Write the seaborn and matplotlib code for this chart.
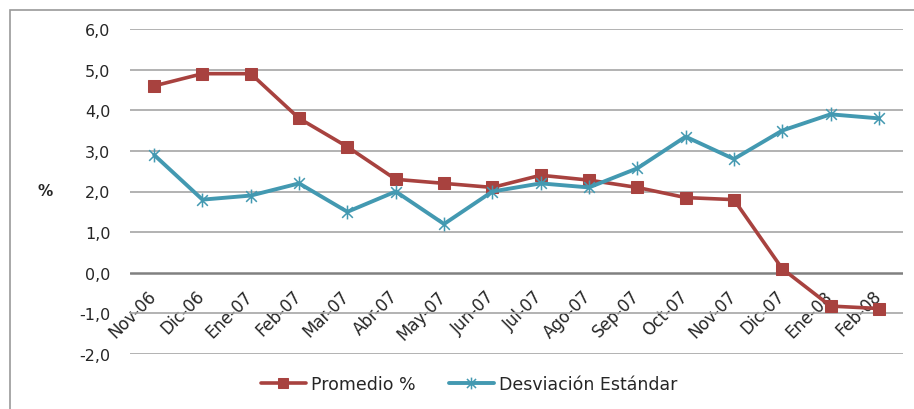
import matplotlib
matplotlib.use("Agg")
import matplotlib.pyplot as plt
import matplotlib.transforms as mtransforms
from matplotlib.path import Path
from matplotlib.patches import Rectangle
import seaborn as sns
import pandas as pd

meses = ["Nov-06", "Dic-06", "Ene-07", "Feb-07", "Mar-07", "Abr-07", "May-07", "Jun-07",
         "Jul-07", "Ago-07", "Sep-07", "Oct-07", "Nov-07", "Dic-07", "Ene-08", "Feb-08"]
promedio = [4.6, 4.9, 4.9, 3.8, 3.1, 2.3, 2.2, 2.1, 2.4, 2.28, 2.1, 1.85, 1.8, 0.1, -0.82, -0.88]
desviacion = [2.9, 1.8, 1.9, 2.2, 1.5, 2.0, 1.2, 2.0, 2.2, 2.1, 2.57, 3.35, 2.8, 3.5, 3.9, 3.8]
y_ticks = [-2, -1, 0, 1, 2, 3, 4, 5, 6]
y_labels = ["-2,0", "-1,0", "0,0", "1,0", "2,0", "3,0", "4,0", "5,0", "6,0"]

red = "#A8423F"
blue = "#4399B1"

# Excel style asterisk: an X plus a vertical stroke
star = Path(
    [(-1, -1), (1, 1), (-1, 1), (1, -1), (0, -1.3), (0, 1.3)],
    [Path.MOVETO, Path.LINETO, Path.MOVETO, Path.LINETO, Path.MOVETO, Path.LINETO],
)

sns.set_style("white")
plt.rcParams["font.family"] = ["DejaVu Sans"]

df = pd.DataFrame({"mes": meses, "Promedio %": promedio, "Desviación Estándar": desviacion})
df["pos"] = range(len(meses))

fig = plt.figure(figsize=(9.14, 4.10), dpi=100)
ax = fig.add_axes([130 / 914, 1 - 355 / 410, 773 / 914, 325 / 410])

# outer chart frame
fig.patches.append(Rectangle((10 / 914, -0.1), 1.2, 1.1 - 11 / 410,
                             transform=fig.transFigure, fill=False,
                             edgecolor="#9a9a9a", linewidth=1.2))

for t in y_ticks:
    ax.axhline(t, color="#808080" if t == 0 else "#a6a6a6",
               linewidth=1.8 if t == 0 else 1.2, zorder=1)

sns.lineplot(data=df, x="pos", y="Promedio %", ax=ax, color=red, linewidth=2.6,
             marker="s", markersize=9, markeredgecolor=red, label="Promedio %", zorder=3)
sns.lineplot(data=df, x="pos", y="Desviación Estándar", ax=ax, color=blue, linewidth=2.8,
             marker=star, markersize=10, markeredgewidth=1.1, markeredgecolor=blue,
             markerfacecolor="none", label="Desviación Estándar", zorder=4)

# category labels sit on the zero line, like Excel
ax.spines["bottom"].set_position(("data", 0))
for s in ax.spines.values():
    s.set_visible(False)

ax.set_xlim(-0.5, len(meses) - 0.5)
ax.set_ylim(-2, 6)
ax.set_yticks(y_ticks)
ax.set_yticklabels(y_labels, fontsize=11.5)
ax.set_xticks(range(len(meses)))
ax.set_xticklabels(meses, rotation=45, ha="right", rotation_mode="anchor", fontsize=12)
ax.tick_params(axis="both", length=0)
ax.tick_params(axis="y", pad=14)
ax.tick_params(axis="x", pad=10)
shift = mtransforms.ScaledTranslation(-7 / 100, 0, fig.dpi_scale_trans)
for lbl in ax.get_xticklabels():
    lbl.set_transform(lbl.get_transform() + shift)
ax.set_xlabel("")
ax.set_ylabel("%", rotation=0, fontsize=11, fontweight="bold")
ax.yaxis.set_label_coords(-0.11, 0.48)

ax.legend(loc="center", bbox_to_anchor=(0.513, 25 / 410), bbox_transform=fig.transFigure,
          ncol=2, frameon=False, fontsize=12.5, handlelength=2.6, columnspacing=1.9,
          handletextpad=0.3, markerscale=0.85)

fig.savefig("out.png", dpi=100)
